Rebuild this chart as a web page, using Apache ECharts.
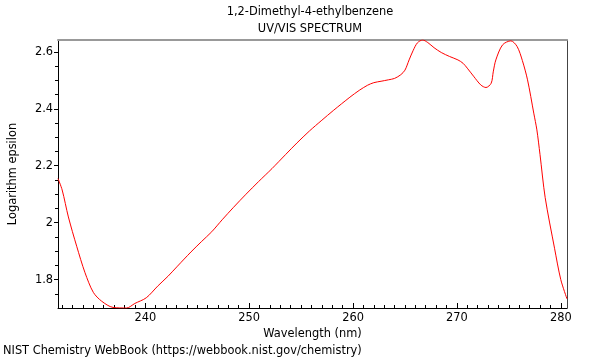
<!DOCTYPE html>
<html>
<head>
<meta charset="utf-8">
<script src="https://cdn.jsdelivr.net/npm/echarts@6/dist/echarts.min.js"></script>
<style>html,body{margin:0;padding:0;background:#fff}#c{width:600px;height:360px}</style>
</head>
<body>
<div id="c"></div>
<script>
var wavelength = [231.6,232.0,232.6,233.4,234.2,235.0,235.8,236.9,238.2,239.0,240.1,241.2,242.2,243.1,244.4,245.4,246.4,247.4,248.5,249.7,250.9,252.2,253.5,254.6,255.8,257.0,258.1,259.7,260.6,261.4,262.0,262.7,263.4,264.0,264.6,265.0,265.4,265.8,266.2,266.7,267.2,267.8,268.5,269.3,270.1,270.6,271.0,271.6,272.3,272.8,273.3,273.5,273.75,274.4,275.2,275.8,276.3,276.8,277.4,277.7,278.0,278.5,279.4,280.0,280.6];
var logEpsilon = [2.155,2.115,2.02,1.917,1.824,1.755,1.724,1.702,1.70,1.716,1.736,1.777,1.812,1.847,1.897,1.933,1.968,2.01,2.054,2.10,2.144,2.19,2.239,2.28,2.322,2.36,2.394,2.441,2.465,2.483,2.492,2.497,2.502,2.507,2.52,2.536,2.572,2.606,2.632,2.642,2.633,2.615,2.598,2.584,2.572,2.56,2.543,2.515,2.484,2.475,2.49,2.53,2.572,2.625,2.639,2.619,2.57,2.502,2.385,2.326,2.24,2.088,1.91,1.80,1.732];
var xTickLabels = [240,250,260,270,280];
var yTickLabels = [1.8,2.0,2.2,2.4,2.6];
var titleText = '1,2-Dimethyl-4-ethylbenzene';
var subtitleText = 'UV/VIS SPECTRUM';
var xName = 'Wavelength (nm)';
var yName = 'Logarithm epsilon';
var footer = 'NIST Chemistry WebBook (https://webbook.nist.gov/chemistry)';

var xMin = 231.6, xMax = 280.6, yMin = 1.7, yMax = 2.642;
var xMinor = []; for (var i = 232; i <= 280; i++) xMinor.push(i);
var yMinor = []; for (var k = 35; k <= 52; k++) yMinor.push(+(k*0.05).toFixed(2));

var FONT = 'DejaVu Sans';
var FS = 11.4;
var data = wavelength.map(function(w,i){return [w, logEpsilon[i]];});

var chart = echarts.init(document.getElementById('c'), null, {renderer:'canvas'});
chart.setOption({
  animation: false,
  backgroundColor: '#fff',
  textStyle: {fontFamily: FONT},
  title: [
    {text: titleText, left: 310, top: 7, padding: 0, textAlign: 'center', textStyle: {fontSize: FS, fontWeight: 'normal', color: '#000', fontFamily: FONT}},
    {text: subtitleText, left: 310, top: 24, padding: 0, textAlign: 'center', textStyle: {fontSize: FS, fontWeight: 'normal', color: '#000', fontFamily: FONT}},
    {text: footer, left: 3, top: 346, padding: 0, textStyle: {fontSize: FS, fontWeight: 'normal', color: '#000', fontFamily: FONT}}
  ],
  grid: {left: 57, right: 33, top: 40, bottom: 52, containLabel: false},
  xAxis: [
    {type: 'value', min: xMin, max: xMax, position: 'bottom',
     name: xName, nameLocation: 'middle', nameGap: 20, nameTextStyle: {fontSize: FS, color: '#000', fontFamily: FONT},
     axisLine: {show: true, lineStyle: {color: '#000', width: 1}},
     axisTick: {show: true, inside: true, length: 5, customValues: xTickLabels, lineStyle: {color: '#000'}},
     axisLabel: {show: true, customValues: xTickLabels, fontSize: FS, color: '#000', margin: 5, fontFamily: FONT},
     splitLine: {show: false}},
    {type: 'value', min: xMin, max: xMax, position: 'bottom',
     axisLine: {show: false},
     axisTick: {show: true, inside: true, length: 3, customValues: xMinor, lineStyle: {color: '#000'}},
     axisLabel: {show: false}, splitLine: {show: false}},
    {type: 'value', min: xMin, max: xMax, position: 'top',
     axisLine: {show: true, lineStyle: {color: '#999', width: 2}},
     axisTick: {show: false}, axisLabel: {show: false}, splitLine: {show: false}}
  ],
  yAxis: [
    {type: 'value', min: yMin, max: yMax, position: 'left',
     name: yName, nameLocation: 'middle', nameGap: 39, nameRotate: 90, nameTextStyle: {fontSize: FS, color: '#000', fontFamily: FONT},
     axisLine: {show: true, lineStyle: {color: '#000', width: 1}},
     axisTick: {show: true, inside: false, length: 4, customValues: yTickLabels, lineStyle: {color: '#000'}},
     axisLabel: {show: true, customValues: yTickLabels, fontSize: FS, color: '#000', margin: 5, fontFamily: FONT,
       formatter: function(v){ return String(+v.toFixed(2)); }},
     splitLine: {show: false}},
    {type: 'value', min: yMin, max: yMax, position: 'left',
     axisLine: {show: false},
     axisTick: {show: true, inside: false, length: 3, customValues: yMinor, lineStyle: {color: '#000'}},
     axisLabel: {show: false}, splitLine: {show: false}},
    {type: 'value', min: yMin, max: yMax, position: 'right',
     axisLine: {show: true, lineStyle: {color: '#444', width: 1}},
     axisTick: {show: false}, axisLabel: {show: false}, splitLine: {show: false}}
  ],
  series: [{
    type: 'line', data: data, xAxisIndex: 0, yAxisIndex: 0,
    showSymbol: false, smooth: 0.3, clip: true,
    lineStyle: {color: '#ff0000', width: 1}
  }]
});
</script>
</body>
</html>
